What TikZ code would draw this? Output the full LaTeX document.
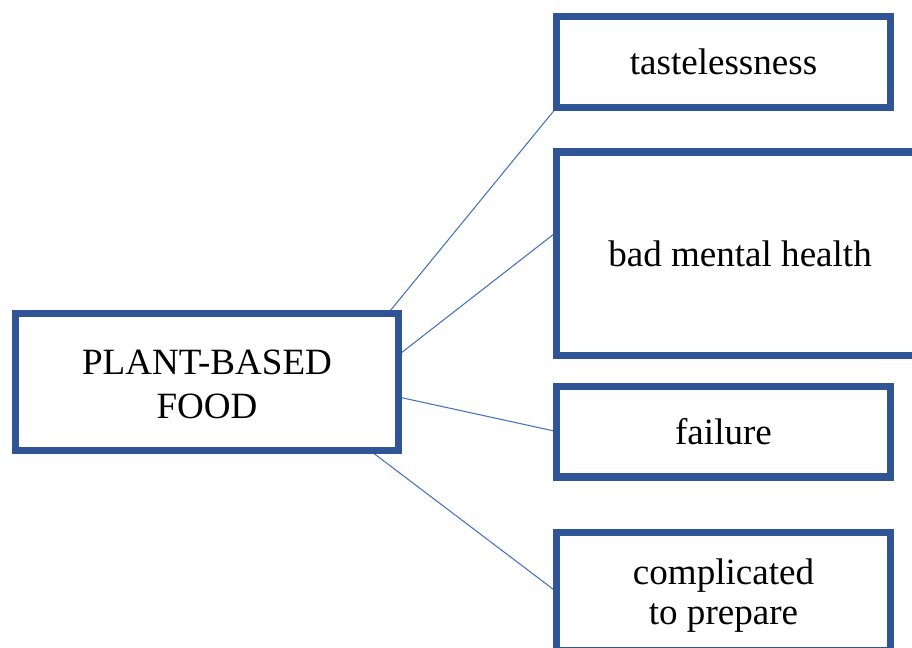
\documentclass[tikz,border=0pt]{standalone}
\usepackage{fontspec}
\setmainfont{Liberation Serif}
\usetikzlibrary{calc,backgrounds}
\definecolor{boxblue}{HTML}{2F5597}
\definecolor{linkblue}{HTML}{4472C4}
\begin{document}
\begin{tikzpicture}[x=0.75pt,y=-0.75pt,
  box/.style={draw=boxblue,line width=5.5pt,inner sep=0pt,outer sep=0pt,align=center,
    font=\fontsize{27.8}{33}\selectfont,text=black},
  link/.style={draw=linkblue,line width=0.8pt}]
\useasboundingbox (0,0) rectangle (912,648);
\clip (0,0) rectangle (912,648);
\node[box,minimum width=287.25pt,minimum height=102.75pt] (plant) at (207,382) {\rule{0pt}{21.5pt}PLANT-BASED\\FOOD};
\node[box,minimum width=250.5pt,minimum height=68.25pt] (taste) at (723.5,62) {tastelessness};
\node[box,minimum width=275.25pt,minimum height=152.6pt] (bad) at (740,253.75) {bad mental health};
\node[box,minimum width=250.5pt,minimum height=68pt] (fail) at (723.5,431.5) {failure};
\node[box,minimum width=250.5pt,minimum height=88.9pt,font=\fontsize{27.8}{30}\selectfont] (comp) at (723.5,591.75) {\rule{0pt}{25pt}complicated\\to prepare};
\coordinate (p1) at ($(plant.north east)+(-10.5,0)$);
\coordinate (p2) at ($(plant.east)+(0,-27)$);
\coordinate (p3) at ($(plant.east)+(0,15)$);
\coordinate (p4) at ($(plant.south east)+(-28.5,0)$);
\coordinate (b2) at ($(bad.west)+(0,-21.75)$);
\begin{scope}[on background layer]
\draw[link] (p1) -- (taste.south west);
\draw[link] (p2) -- (b2);
\draw[link] (p3) -- (fail.west);
\draw[link] (p4) -- (comp.west);
\end{scope}
\end{tikzpicture}
\end{document}
